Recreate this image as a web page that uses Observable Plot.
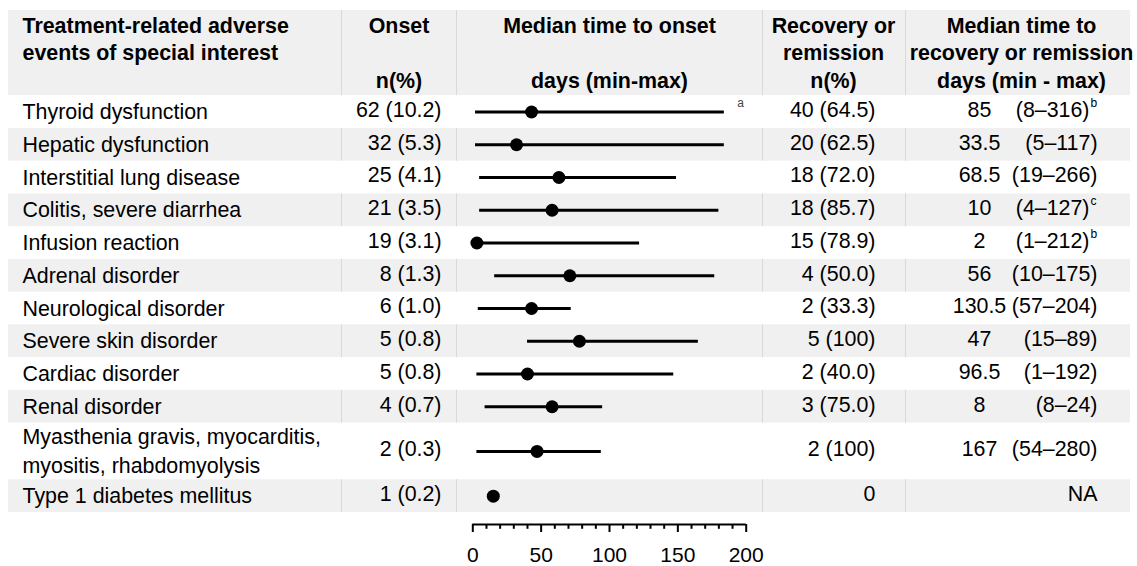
<!DOCTYPE html>
<html>
<head>
<meta charset="utf-8">
<script src="https://cdn.jsdelivr.net/npm/d3@7"></script>
<script src="https://cdn.jsdelivr.net/npm/@observablehq/plot@0.6"></script>
<style>
  html, body { margin: 0; padding: 0; background: #fff; }
  #chart svg { display: block; }
</style>
</head>
<body>
<div id="chart"></div>
<script>
// ---------- data ----------
const events = [
  "Thyroid dysfunction",
  "Hepatic dysfunction",
  "Interstitial lung disease",
  "Colitis, severe diarrhea",
  "Infusion reaction",
  "Adrenal disorder",
  "Neurological disorder",
  "Severe skin disorder",
  "Cardiac disorder",
  "Renal disorder",
  "Myasthenia gravis, myocarditis,\nmyositis, rhabdomyolysis",
  "Type 1 diabetes mellitus"
];
const onsetN   = [62, 32, 25, 21, 19, 8, 6, 5, 5, 4, 2, 1];
const onsetPct = [10.2, 5.3, 4.1, 3.5, 3.1, 1.3, 1.0, 0.8, 0.8, 0.7, 0.3, 0.2];
const onsetMedian = [43, 32, 63, 58, 3, 71, 43, 78, 40, 58, 47, 15];
const onsetMin    = [2, 2, 5, 5, 1, 16, 4, 40, 3, 9, 3, 15];
const onsetMax    = [184, 184, 149, 180, 122, 177, 72, 165, 147, 95, 94, 15];
const onsetNote   = ["a", "", "", "", "", "", "", "", "", "", "", ""];
const recN   = [40, 20, 18, 18, 15, 4, 2, 5, 2, 3, 2, 0];
const recPct = [64.5, 62.5, 72.0, 85.7, 78.9, 50.0, 33.3, 100, 40.0, 75.0, 100, null];
const recMedian = [85, 33.5, 68.5, 10, 2, 56, 130.5, 47, 96.5, 8, 167, null];
const recMin    = [8, 5, 19, 4, 1, 10, 57, 15, 1, 8, 54, null];
const recMax    = [316, 117, 266, 127, 212, 175, 204, 89, 192, 24, 280, null];
const recNote   = ["b", "", "", "c", "b", "", "", "", "", "", "", ""];
const rowSpan   = [1, 1, 1, 1, 1, 1, 1, 1, 1, 1, 1.73, 1];
const axisTicks = [0, 50, 100, 150, 200];
const minorTicks = d3.range(0, 201, 10);
const headers = [
  {text: "Treatment-related adverse\nevents of special interest\n", pos: 22, anchor: "start"},
  {text: "Onset\n\nn(%)", pos: 398.5, anchor: "middle"},
  {text: "Median time to onset\n\ndays (min-max)", pos: 609, anchor: "middle"},
  {text: "Recovery or\nremission\nn(%)", pos: 833, anchor: "middle"},
  {text: "Median time to\nrecovery or remission\ndays (min - max)", pos: 1021, anchor: "middle"}
];

// ---------- table build ----------
const headerUnits = 2.6;
let cum = 0;
const rows = events.map((name, i) => {
  const top = cum; cum += rowSpan[i];
  const fmtPct = (v) => v === 100 ? "100" : v.toFixed(1);
  return {
    i, name, top, bottom: cum, mid: top + rowSpan[i] / 2,
    onset: `${onsetN[i]} (${fmtPct(onsetPct[i])})`,
    median: onsetMedian[i], min: onsetMin[i], max: onsetMax[i], onote: onsetNote[i],
    rec: recPct[i] == null ? `${recN[i]}` : `${recN[i]} (${fmtPct(recPct[i])})`,
    recMed: recMedian[i] == null ? "" : `${recMedian[i]}`,
    recRange: recMedian[i] == null ? "NA" : `(${recMin[i]}–${recMax[i]})`,
    rnote: recNote[i]
  };
});
const totalUnits = cum;
const grayBlocks = [{top: -headerUnits, bottom: 0}, ...rows.filter(r => r.i % 2 === 1)];
const separators = [341, 456, 762, 905];

const W = 1137, H = 566;
const FONT = "'Liberation Sans', Arial, Helvetica, sans-serif";
const FS = 21.4;
const rowPx = (512 - 10) / (totalUnits + headerUnits);
const axisUnit = totalUnits + 12 / rowPx;
const majorLen = 8 / rowPx, minorLen = 4.8 / rowPx;
const tickRows = minorTicks.map(v => ({v, len: axisTicks.includes(v) ? majorLen : minorLen}));
const TDY = -2;

const marks = [
  Plot.rect(grayBlocks, {y1: "top", y2: "bottom", fill: "#f0f0f0", insetLeft: 8, insetRight: 7}),
  ...separators.map(sx => Plot.rect(grayBlocks, {y1: "top", y2: "bottom", fill: "#d9d9d9", insetLeft: sx, insetRight: W - sx - 1})),
  // header
  ...headers.map(h => Plot.text([h], {
    text: "text", y: () => -headerUnits / 2 - 0.05, frameAnchor: "left", dx: h.pos,
    textAnchor: h.anchor, fontWeight: "bold", fontSize: FS, lineHeight: 1.28, fill: "#000"
  })),
  // col 1 labels
  Plot.text(rows, {text: "name", y: "mid", frameAnchor: "left", dx: 22, dy: TDY, textAnchor: "start", fontSize: FS, lineHeight: 1.33, fill: "#000"}),
  // col 2
  Plot.text(rows, {text: "onset", y: "mid", frameAnchor: "left", dx: 441, dy: TDY, textAnchor: "end", fontSize: FS, fill: "#000"}),
  // forest plot
  Plot.ruleY(rows, {y: "mid", x1: "min", x2: "max", stroke: "#000", strokeWidth: 3}),
  Plot.dot(rows, {x: "median", y: "mid", r: 6.5, fill: "#000", stroke: "none"}),
  Plot.text(rows.filter(r => r.onote), {text: "onote", x: "max", y: "mid", dx: 13, dy: -9, textAnchor: "start", fontSize: 12, fill: "#444"}),
  // col 4
  Plot.text(rows, {text: "rec", y: "mid", frameAnchor: "left", dx: 875, dy: TDY, textAnchor: "end", fontSize: FS, fill: "#000"}),
  // col 5
  Plot.text(rows, {text: "recMed", y: "mid", frameAnchor: "left", dx: 979, dy: TDY, textAnchor: "middle", fontSize: FS, fill: "#000"}),
  Plot.text(rows.filter(r => !r.rnote), {text: "recRange", y: "mid", frameAnchor: "left", dx: 1097, dy: TDY, textAnchor: "end", fontSize: FS, fill: "#000"}),
  Plot.text(rows.filter(r => r.rnote), {text: "recRange", y: "mid", frameAnchor: "left", dx: 1089, dy: TDY, textAnchor: "end", fontSize: FS, fill: "#000"}),
  Plot.text(rows.filter(r => r.rnote), {text: "rnote", y: "mid", frameAnchor: "left", dx: 1090, dy: -9, textAnchor: "start", fontSize: 12, fill: "#000"}),
  // axis
  Plot.ruleY([axisUnit], {x1: 0, x2: 200, stroke: "#000", strokeWidth: 2}),
  Plot.ruleX(tickRows, {x: "v", y1: () => axisUnit, y2: d => axisUnit + d.len, stroke: "#000", strokeWidth: 2}),
  Plot.axisX({anchor: "bottom", ticks: axisTicks, tickSize: 0, tickPadding: 23, tickFormat: "d", fontSize: 21, fill: "#000", label: null})
];

const chart = Plot.plot({
  width: W, height: H,
  marginLeft: 0, marginRight: 0, marginTop: 0, marginBottom: 42,
  style: {fontFamily: FONT, fontSize: "21px", background: "#fff", color: "#000", overflow: "visible"},
  x: {domain: [0, 200], range: [472.3, 745.7]},
  y: {domain: [-headerUnits, totalUnits], range: [10, 512], axis: null},
  marks
});
document.getElementById("chart").append(chart);
</script>
</body>
</html>
